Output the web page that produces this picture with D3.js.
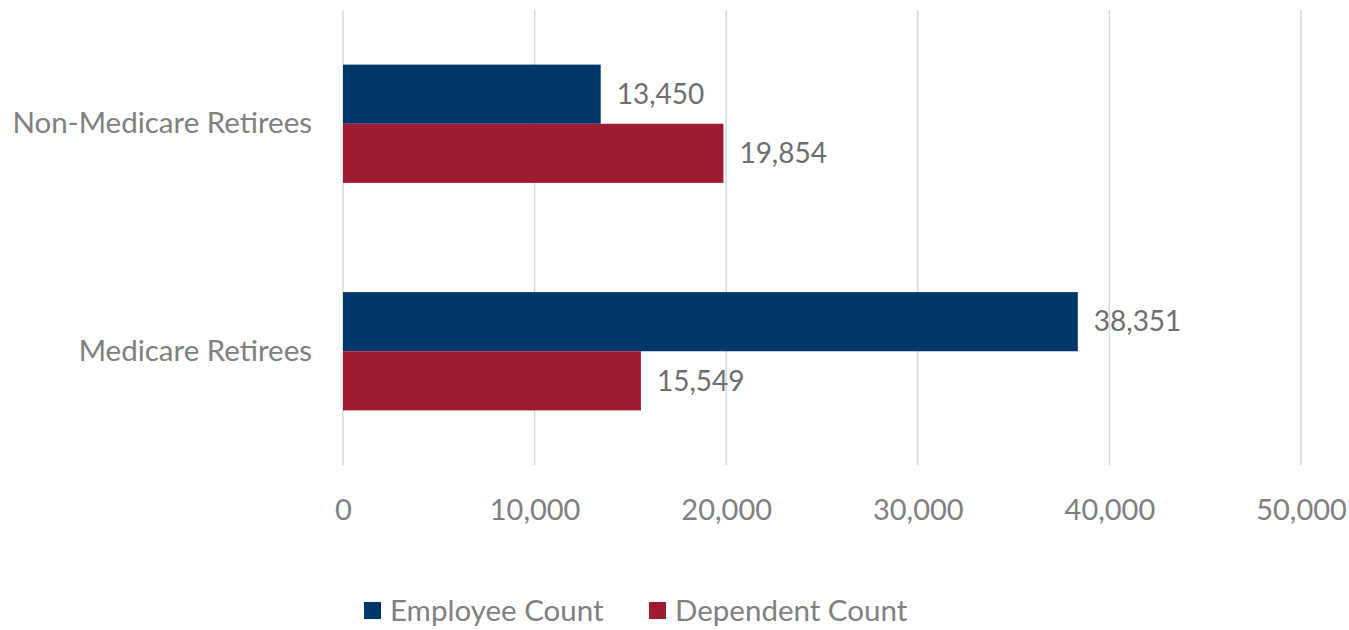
<!DOCTYPE html>
<html>
<head>
<meta charset="utf-8">
<script src="https://cdn.jsdelivr.net/npm/d3@7"></script>
<style>
  body { margin: 0; background: #fff; }
  text { font-family: Lato, "Open Sans", sans-serif; }
</style>
</head>
<body>
<svg id="chart"></svg>
<script>
const width = 1349;
const height = 630;

// data
const categories = ["Non-Medicare Retirees", "Medicare Retirees"];
const seriesNames = ["Employee Count", "Dependent Count"];
const employeeCount = [13450, 38351];
const dependentCount = [19854, 15549];
const xTicks = [0, 10000, 20000, 30000, 40000, 50000];
const colors = ["#00376b", "#9e1b32"];

const margin = { top: 10, right: 48, bottom: 165, left: 343 };
const innerW = width - margin.left - margin.right;
const innerH = height - margin.top - margin.bottom;

const svg = d3.select("#chart")
    .attr("width", width)
    .attr("height", height);

const g = svg.append("g").attr("transform", `translate(${margin.left},${margin.top})`);

const x = d3.scaleLinear().domain([0, 50000]).range([0, innerW]);
const y = d3.scaleBand().domain(categories).range([0, innerH]).paddingInner(0.48).paddingOuter(0.24);
const ySub = d3.scaleBand().domain(seriesNames).range([0, y.bandwidth()]);

const fmt = d3.format(",");

// gridlines
g.append("g")
    .selectAll("line")
    .data(xTicks)
    .join("line")
    .attr("x1", d => x(d)).attr("x2", d => x(d))
    .attr("y1", 0).attr("y2", innerH)
    .attr("stroke", "#d9d9d9")
    .attr("stroke-width", 1.5);

// x tick labels
const xAxis = d3.axisBottom(x).tickValues(xTicks).tickFormat(fmt).tickSize(0).tickPadding(0);
g.append("g")
    .attr("transform", `translate(0,${innerH + 34})`)
    .call(xAxis)
    .call(s => s.select(".domain").remove())
    .selectAll("text")
    .attr("font-size", 29)
    .attr("fill", "#808080")
    .attr("font-family", "Lato, 'Open Sans', sans-serif");

// category labels
const yAxis = d3.axisLeft(y).tickSize(0).tickPadding(31);
g.append("g")
    .call(yAxis)
    .call(s => s.select(".domain").remove())
    .selectAll("text")
    .attr("font-size", 29.5)
    .attr("fill", "#808080")
    .attr("font-family", "Lato, 'Open Sans', sans-serif");

const rows = [];
categories.forEach((c, i) => {
    rows.push({ cat: c, series: seriesNames[0], value: employeeCount[i], color: colors[0] });
    rows.push({ cat: c, series: seriesNames[1], value: dependentCount[i], color: colors[1] });
});

g.append("g")
    .selectAll("rect")
    .data(rows)
    .join("rect")
    .attr("x", x(0))
    .attr("y", d => y(d.cat) + ySub(d.series))
    .attr("width", d => x(d.value) - x(0))
    .attr("height", ySub.bandwidth())
    .attr("fill", d => d.color);

g.append("g")
    .selectAll("text")
    .data(rows)
    .join("text")
    .attr("x", d => x(d.value) + 16)
    .attr("y", d => y(d.cat) + ySub(d.series) + ySub.bandwidth() / 2)
    .attr("dy", "0.35em")
    .attr("font-size", 28)
    .attr("fill", "#6e6e6e")
    .text(d => fmt(d.value));

// legend
const legendX = [364, 649];
const legend = svg.append("g")
    .selectAll("g")
    .data(seriesNames)
    .join("g")
    .attr("transform", (d, i) => `translate(${legendX[i]},602)`);

legend.append("rect")
    .attr("width", 17).attr("height", 17)
    .attr("fill", (d, i) => colors[i]);

legend.append("text")
    .attr("x", 26)
    .attr("y", 9)
    .attr("dy", "0.35em")
    .attr("font-size", 29.5)
    .attr("fill", "#808080")
    .text(d => d);
</script>
</body>
</html>
